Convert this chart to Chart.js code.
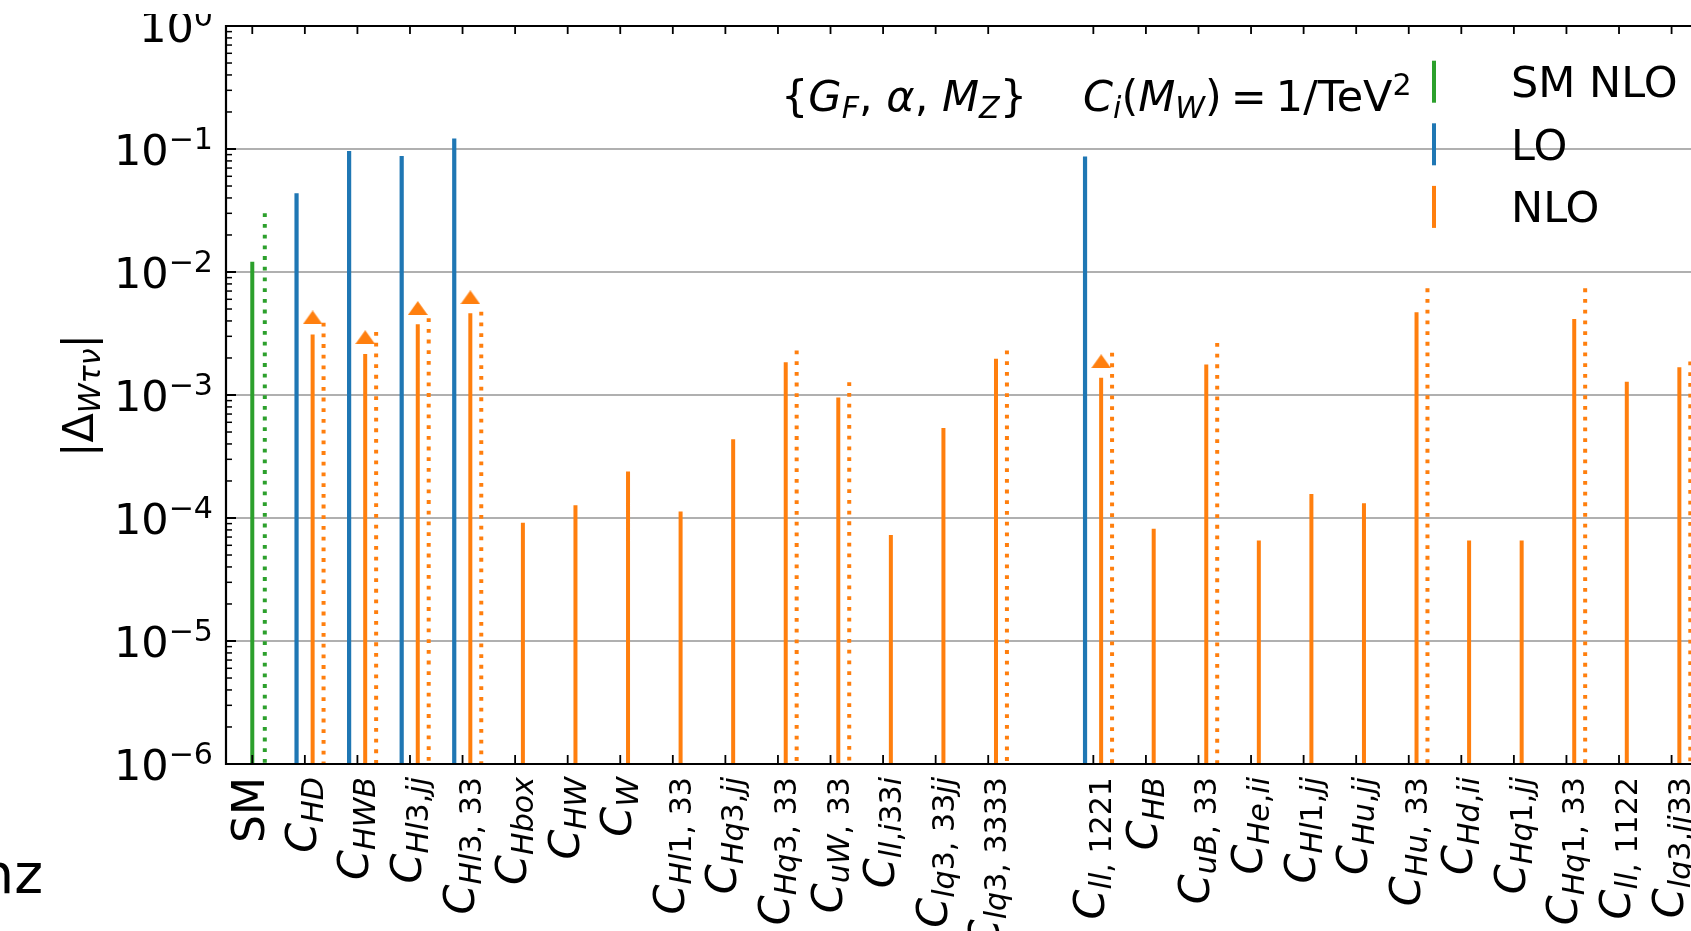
<!DOCTYPE html>
<html lang="en">

<head>
    <meta charset="UTF-8">
    <meta name="viewport" content="width=device-width, initial-scale=1.0">
    <script src="https://cdn.jsdelivr.net/npm/chart.js@4.4.1/dist/chart.umd.min.js"></script>
    <title>W to tau nu: SMEFT corrections</title>
    <style>
        body { margin: 0; overflow: hidden; background: #fff; }
        #chart { position: absolute; left: 0; top: 0; clip-path: inset(14px 0 0 0); }
    </style>
</head>

<body>
    <canvas id="chart" width="1812" height="931"></canvas>
    <script>
        // operator labels, '' leaves an empty slot between the two groups
        const labels = ['SM', 'C_{HD}', 'C_{HWB}', 'C_{Hl3,jj}', 'C_{Hl3, 33}', 'C_{Hbox}', 'C_{HW}', 'C_{W}',
            'C_{Hl1, 33}', 'C_{Hq3,jj}', 'C_{Hq3, 33}', 'C_{uW, 33}', 'C_{ll,i33i}', 'C_{lq3, 33jj}', 'C_{lq3, 3333}', '',
            'C_{ll, 1221}', 'C_{HB}', 'C_{uB, 33}', 'C_{He,ii}', 'C_{Hl1,jj}', 'C_{Hu,jj}', 'C_{Hu, 33}', 'C_{Hd,ii}',
            'C_{Hq1,jj}', 'C_{Hq1, 33}', 'C_{ll, 1122}', 'C_{lq3,jj33}'];

        // |Delta| per slot
        const smNLO = [0.0121, null, null, null, null, null, null, null, null, null, null, null, null, null,
            null, null, null, null, null, null, null, null, null, null, null, null, null, null];
        const smNLOalt = [0.030, null, null, null, null, null, null, null, null, null, null, null, null, null,
            null, null, null, null, null, null, null, null, null, null, null, null, null, null];
        const lo = [null, 0.0436, 0.0964, 0.0878, 0.122, null, null, null, null, null, null, null, null, null,
            null, null, 0.0867, null, null, null, null, null, null, null, null, null, null, null];
        const nlo = [null, 0.00311, 0.00215, 0.00376, 0.00461, 9.16e-5, 1.27e-4, 2.39e-4, 1.13e-4, 4.36e-4, 1.85e-3, 9.53e-4, 7.27e-5, 5.39e-4,
            1.97e-3, null, 1.38e-3, 8.18e-5, 1.77e-3, 6.55e-5, 1.57e-4, 1.32e-4, 4.70e-3, 6.55e-5, 6.55e-5, 4.15e-3, 1.28e-3, 1.68e-3];
        const nloAlt = [null, 0.00387, 0.00325, 0.00421, 0.00475, null, null, null, null, null, 2.30e-3, 1.27e-3, null, null,
            2.30e-3, null, 2.21e-3, null, 2.65e-3, null, null, null, 7.36e-3, null, null, 7.36e-3, null, 1.87e-3];
        const nloArrow = [null, 0.00427, 0.00295, 0.00509, 0.00622, null, null, null, null, null, null, null, null, null,
            null, null, 0.00188, null, null, null, null, null, null, null, null, null, null, null];

        const yTicks = [1, 1e-1, 1e-2, 1e-3, 1e-4, 1e-5, 1e-6];

        const Y_MIN = 1e-6;
        const BLUE = '#1f77b4', ORANGE = '#ff7f0e', GREEN = '#2ca02c';
        const FONT = '"DejaVu Sans"';
        const FS = 43;

        // vertical stems: top point, bottom point, then a gap
        function stems(values, offset) {
            const pts = [];
            values.forEach((v, i) => {
                if (v == null) return;
                pts.push({ x: i + offset, y: v }, { x: i + offset, y: Y_MIN }, { x: i + offset, y: null });
            });
            return pts;
        }

        function marks(values, offset) {
            const pts = [];
            values.forEach((v, i) => { if (v != null) pts.push({ x: i + offset, y: v }); });
            return pts;
        }

        // flat arrow head marker
        const arrowHead = document.createElement('canvas');
        arrowHead.width = 20;
        arrowHead.height = 14;
        (function () {
            const c = arrowHead.getContext('2d');
            c.fillStyle = ORANGE;
            c.beginPath();
            c.moveTo(0, 14);
            c.lineTo(10, 0);
            c.lineTo(20, 14);
            c.closePath();
            c.fill();
        })();

        function font(size, italic) {
            return (italic ? 'italic ' : '') + size + 'px ' + FONT;
        }

        // mathtext-like runs: letters italic, _{..} lowered, ^{..} raised
        function mathRuns(src, size) {
            const runs = [];
            const add = (ch, sz, dy) => {
                const italic = /[A-Za-z\u03b1-\u03c9]/.test(ch);
                const last = runs[runs.length - 1];
                if (last && last.size === sz && last.italic === italic && last.dy === dy) last.t += ch;
                else runs.push({ t: ch, size: sz, italic: italic, dy: dy });
            };
            for (let i = 0; i < src.length; i++) {
                const c = src[i];
                if ((c === '_' || c === '^') && src[i + 1] === '{') {
                    const end = src.indexOf('}', i);
                    for (const ch of src.slice(i + 2, end)) add(ch, size * 0.7, c === '_' ? 7 : -16);
                    i = end;
                } else {
                    add(c, size, 0);
                }
            }
            return runs;
        }

        function drawRuns(ctx, runs, x, y, align) {
            let total = 0;
            for (const r of runs) {
                if (r.gap) { r.w = r.gap; } else { ctx.font = font(r.size, r.italic); r.w = ctx.measureText(r.t).width; }
                total += r.w;
            }
            let cx = align === 'right' ? x - total : align === 'center' ? x - total / 2 : x;
            ctx.textAlign = 'left';
            ctx.textBaseline = 'alphabetic';
            for (const r of runs) {
                if (!r.gap) {
                    ctx.font = font(r.size, r.italic);
                    ctx.fillText(r.t, cx, y + (r.dy || 0));
                }
                cx += r.w;
            }
        }

        const frame = {
            id: 'frame',
            beforeDatasetsDraw(chart) {
                const { ctx, chartArea: a } = chart;
                const y = chart.scales.y;
                ctx.save();
                ctx.strokeStyle = '#b0b0b0';
                ctx.lineWidth = 2;
                yTicks.forEach(v => {
                    if (v === 1 || v === Y_MIN) return;
                    const py = Math.round(y.getPixelForValue(v));
                    ctx.beginPath();
                    ctx.moveTo(a.left, py);
                    ctx.lineTo(a.right, py);
                    ctx.stroke();
                });
                ctx.restore();
            },
            afterDatasetsDraw(chart) {
                const { ctx, chartArea: a } = chart;
                const x = chart.scales.x, y = chart.scales.y;
                ctx.save();
                ctx.strokeStyle = '#000';
                // inward ticks, top and bottom
                ctx.lineWidth = 1.8;
                labels.forEach((lab, i) => {
                    if (!lab) return;
                    const px = x.getPixelForValue(i);
                    ctx.beginPath();
                    ctx.moveTo(px, a.top);
                    ctx.lineTo(px, a.top + 8);
                    ctx.moveTo(px, a.bottom);
                    ctx.lineTo(px, a.bottom - 9);
                    ctx.stroke();
                });
                // log ticks on the left spine
                yTicks.forEach(v => {
                    const py = y.getPixelForValue(v);
                    ctx.lineWidth = 2;
                    ctx.beginPath();
                    ctx.moveTo(a.left, py);
                    ctx.lineTo(a.left + 10, py);
                    ctx.stroke();
                    if (v === 1) return;
                    ctx.lineWidth = 1.5;
                    for (let k = 2; k <= 9; k++) {
                        const pm = y.getPixelForValue(v * k);
                        ctx.beginPath();
                        ctx.moveTo(a.left, pm);
                        ctx.lineTo(a.left + 6, pm);
                        ctx.stroke();
                    }
                });
                ctx.lineWidth = 2.2;
                ctx.beginPath();
                ctx.moveTo(a.right, a.top);
                ctx.lineTo(a.left, a.top);
                ctx.lineTo(a.left, a.bottom);
                ctx.lineTo(a.right, a.bottom);
                ctx.stroke();
                ctx.restore();
            },
            afterDraw(chart) {
                const { ctx, chartArea: a } = chart;
                const x = chart.scales.x, y = chart.scales.y;
                ctx.save();
                ctx.fillStyle = '#000';

                // y tick labels 10^n
                yTicks.forEach(v => {
                    const n = Math.round(Math.log10(v));
                    const py = y.getPixelForValue(v) + 15.5;
                    drawRuns(ctx, [
                        { t: '10', size: FS, italic: false, dy: 0 },
                        { t: (n < 0 ? '\u2212' : '') + Math.abs(n), size: FS * 0.7, italic: false, dy: -16 }
                    ], 213, py, 'right');
                });

                // rotated category labels
                labels.forEach((lab, i) => {
                    if (!lab) return;
                    const px = x.getPixelForValue(i);
                    const runs = lab.indexOf('_') < 0
                        ? [{ t: lab, size: 44, italic: false, dy: 0 }]
                        : mathRuns(lab, FS);
                    ctx.save();
                    ctx.translate(px + (lab === 'SM' ? 12 : 11), a.bottom + 13);
                    ctx.rotate(-Math.PI / 2);
                    drawRuns(ctx, runs, 0, 0, 'right');
                    ctx.restore();
                });

                // y axis title
                ctx.save();
                ctx.translate(92.7, 395.5);
                ctx.rotate(-Math.PI / 2);
                drawRuns(ctx, mathRuns('|\u0394_{W\u03c4\u03bd}|', FS), 0, 0, 'center');
                ctx.restore();

                // scheme and coefficient notes
                drawRuns(ctx, mathRuns('{G_{F}, \u03b1, M_{Z}}', FS), 781, 111, 'left');
                drawRuns(ctx, mathRuns('C_{i}(M_{W})', FS).concat([
                    { gap: 9 },
                    { t: '=', size: FS, italic: false, dy: 0 },
                    { gap: 9 },
                    { t: '1/TeV', size: FS, italic: false, dy: 0 },
                    { t: '2', size: FS * 0.7, italic: false, dy: -16 }
                ]), 1083, 111, 'left');

                // legend with short vertical handles
                const rows = [chart.data.datasets[0], chart.data.datasets[2], chart.data.datasets[3]];
                rows.forEach((ds, r) => {
                    const cy = 81.7 + r * 62.6;
                    ctx.strokeStyle = ds.borderColor;
                    ctx.lineWidth = 4;
                    ctx.beginPath();
                    ctx.moveTo(1434, cy - 21);
                    ctx.lineTo(1434, cy + 21);
                    ctx.stroke();
                    ctx.font = font(FS, false);
                    ctx.textAlign = 'left';
                    ctx.textBaseline = 'alphabetic';
                    ctx.fillText(ds.label, 1511, cy + 15.3);
                });

                // tail of a neighbouring caption
                ctx.font = font(55, false);
                ctx.textAlign = 'right';
                ctx.fillText('nz', 43, 893);
                ctx.restore();
            }
        };

        var ctx = document.getElementById('chart').getContext('2d');
        var chart = new Chart(ctx, {
            type: 'line',
            data: {
                datasets: [{
                    label: 'SM NLO',
                    data: stems(smNLO, 0),
                    borderColor: GREEN,
                    borderWidth: 4,
                }, {
                    label: 'SM NLO alt',
                    data: stems(smNLOalt, 0.238),
                    borderColor: GREEN,
                    borderWidth: 4,
                    borderDash: [3.8, 6.9],
                }, {
                    label: 'LO',
                    data: stems(lo, -0.158),
                    borderColor: BLUE,
                    borderWidth: 4.2,
                }, {
                    label: 'NLO',
                    data: stems(nlo, 0.148),
                    borderColor: ORANGE,
                    borderWidth: 4,
                }, {
                    label: 'NLO alt',
                    data: stems(nloAlt, 0.356),
                    borderColor: ORANGE,
                    borderWidth: 4,
                    borderDash: [3.8, 6.9],
                }, {
                    label: 'NLO arrow',
                    data: marks(nloArrow, 0.148),
                    showLine: false,
                    pointStyle: arrowHead,
                    pointRadius: 7,
                }]
            },
            options: {
                responsive: false,
                animation: false,
                events: [],
                layout: { padding: { left: 226, top: 26, right: 9, bottom: 167 } },
                elements: {
                    point: { radius: 0 },
                    line: { tension: 0, borderCapStyle: 'butt' }
                },
                scales: {
                    x: { type: 'linear', min: -0.5, max: 29.5, display: false },
                    y: { type: 'logarithmic', min: Y_MIN, max: 1, display: false }
                },
                plugins: {
                    legend: { display: false },
                    tooltip: { enabled: false }
                }
            },
            plugins: [frame]
        });
    </script>
</body>

</html>
